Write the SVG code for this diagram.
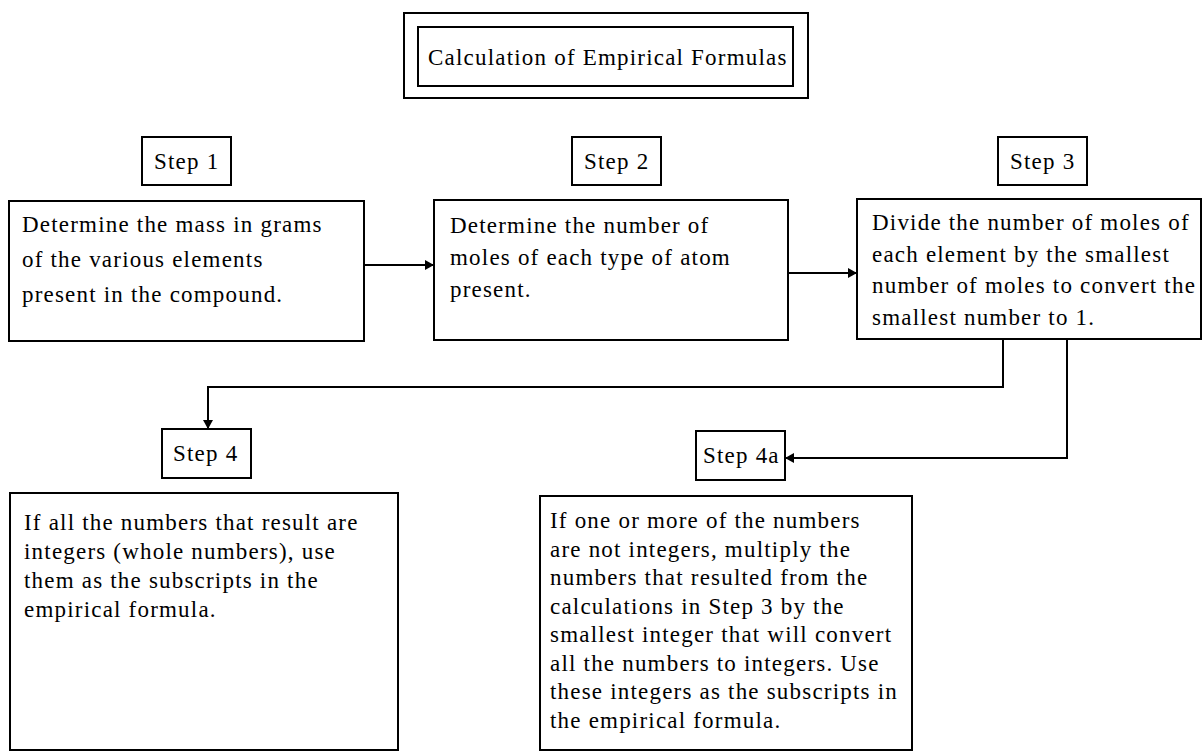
<svg xmlns="http://www.w3.org/2000/svg" width="1202" height="754" viewBox="0 0 1202 754">
<style>
  .box { fill: #ffffff; stroke: #000000; stroke-width: 2; }
  .t { font-family: "Liberation Serif", "Times New Roman", serif; font-size: 23px; letter-spacing: 1.2px; fill: #000000; }
  .conn { fill: none; stroke: #000000; stroke-width: 2; }
</style>
<defs>
  <marker id="arrow" markerUnits="userSpaceOnUse" markerWidth="9" markerHeight="10" refX="9" refY="5" orient="auto">
    <path d="M0,0 L9,5 L0,10 z" fill="#000000"/>
  </marker>
</defs>
<rect x="0" y="0" width="1202" height="754" fill="#ffffff"/>

<g id="title">
  <rect class="box" x="404" y="13" width="404" height="85"/>
  <rect class="box" x="418" y="27" width="375" height="59"/>
  <text class="t" x="428" y="65">Calculation of Empirical Formulas</text>
</g>

<g id="step1-label">
  <rect class="box" x="142" y="137" width="89" height="48"/>
  <text class="t" x="154" y="169">Step 1</text>
</g>
<g id="step2-label">
  <rect class="box" x="572" y="137" width="89" height="48"/>
  <text class="t" x="584" y="169">Step 2</text>
</g>
<g id="step3-label">
  <rect class="box" x="998" y="137" width="89" height="48"/>
  <text class="t" x="1010" y="169">Step 3</text>
</g>

<g id="step1">
  <rect class="box" x="9" y="201" width="355" height="140"/>
  <text class="t" x="22" y="232">Determine the mass in grams</text>
  <text class="t" x="22" y="267">of the various elements</text>
  <text class="t" x="22" y="302">present in the compound.</text>
</g>

<g id="step2">
  <rect class="box" x="434" y="200" width="354" height="140"/>
  <text class="t" x="450" y="233">Determine the number of</text>
  <text class="t" x="450" y="265">moles of each type of atom</text>
  <text class="t" x="450" y="297">present.</text>
</g>

<g id="step3">
  <rect class="box" x="857" y="199" width="344" height="140"/>
  <text class="t" x="872" y="230">Divide the number of moles of</text>
  <text class="t" x="872" y="262">each element by the smallest</text>
  <text class="t" x="872" y="293">number of moles to convert the</text>
  <text class="t" x="872" y="325">smallest number to 1.</text>
</g>

<g id="step4-label">
  <rect class="box" x="162" y="429" width="89" height="49"/>
  <text class="t" x="173" y="461">Step 4</text>
</g>
<g id="step4a-label">
  <rect class="box" x="696" y="431" width="89" height="49"/>
  <text class="t" x="703" y="463">Step 4a</text>
</g>

<g id="step4">
  <rect class="box" x="10" y="493" width="388" height="257"/>
  <text class="t" x="24" y="530">If all the numbers that result are</text>
  <text class="t" x="24" y="559">integers (whole numbers), use</text>
  <text class="t" x="24" y="588">them as the subscripts in the</text>
  <text class="t" x="24" y="617">empirical formula.</text>
</g>

<g id="step4a">
  <rect class="box" x="540" y="496" width="372" height="254"/>
  <text class="t" x="550" y="528">If one or more of the numbers</text>
  <text class="t" x="550" y="557">are not integers, multiply the</text>
  <text class="t" x="550" y="585">numbers that resulted from the</text>
  <text class="t" x="550" y="614">calculations in Step 3 by the</text>
  <text class="t" x="550" y="642">smallest integer that will convert</text>
  <text class="t" x="550" y="671">all the numbers to integers. Use</text>
  <text class="t" x="550" y="699">these integers as the subscripts in</text>
  <text class="t" x="550" y="728">the empirical formula.</text>
</g>

<g id="connectors">
  <line class="conn" x1="364" y1="265" x2="434" y2="265" marker-end="url(#arrow)"/>
  <line class="conn" x1="788" y1="273" x2="857" y2="273" marker-end="url(#arrow)"/>
  <polyline class="conn" points="1003,339 1003,387 208,387 208,429" marker-end="url(#arrow)"/>
  <polyline class="conn" points="1067,339 1067,458 785,458" marker-end="url(#arrow)"/>
</g>
</svg>
